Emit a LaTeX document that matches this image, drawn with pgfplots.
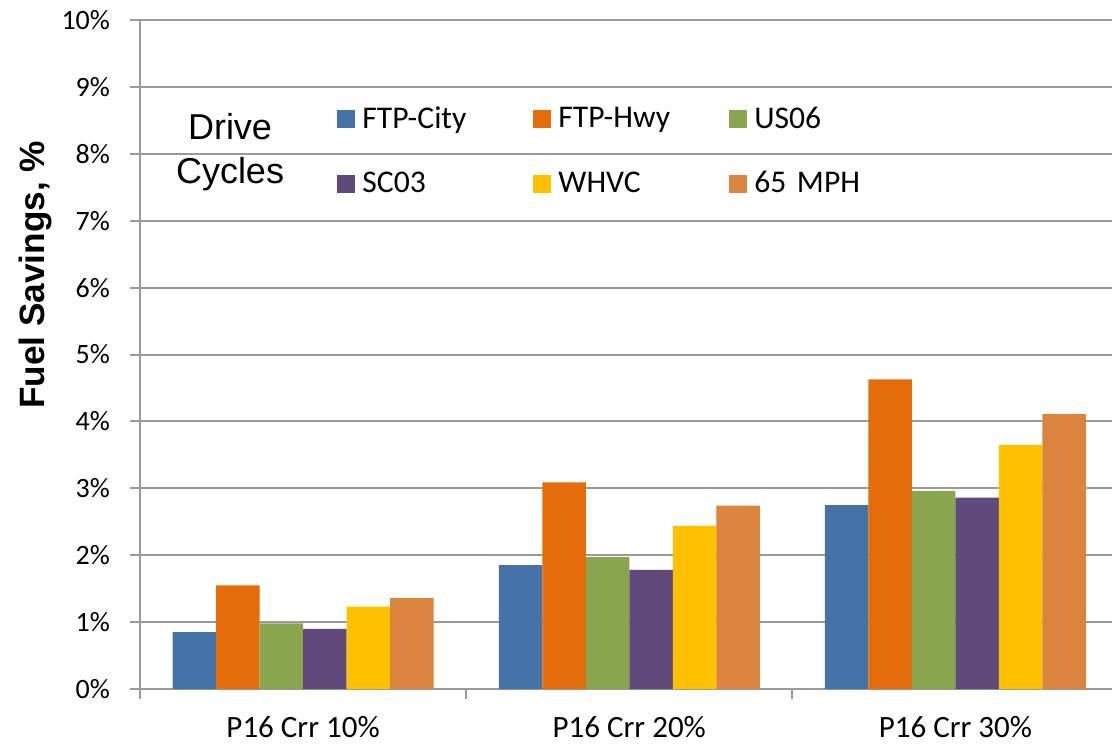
\documentclass[border=0pt]{standalone}
\usepackage{pgfplots}
\pgfplotsset{compat=1.18}
\usepackage{fontspec}
\setmainfont{Carlito}
\newfontfamily\arialfont{Liberation Sans}

\definecolor{cblue}{HTML}{4572A7}
\definecolor{corange}{HTML}{E46C0A}
\definecolor{cgreen}{HTML}{89A54E}
\definecolor{cpurple}{HTML}{604A7B}
\definecolor{cyellow}{HTML}{FFC000}
\definecolor{clight}{HTML}{DB843D}
\definecolor{gridgray}{HTML}{9A9A9A}

\begin{document}
\begin{tikzpicture}
  \begin{axis}[
    name=ax,
    scale only axis,
    width=486pt, height=334.5pt,
    ybar=0pt, bar width=21.75pt,
    xmin=-0.5, xmax=2.48,
    ymin=0, ymax=10,
    axis x line*=bottom, axis y line*=left,
    axis line style={gridgray, line width=1pt},
    ymajorgrids,
    grid style={gridgray, line width=1pt},
    tick align=outside,
    major tick length=5pt,
    tick style={gridgray, line width=1pt},
    xtick={-0.5,0.5,1.5},
    xticklabels={},
    extra x ticks={0,1,2},
    extra x tick labels={P16 Crr 10\%, P16 Crr 20\%, P16 Crr 30\%},
    extra x tick style={major tick length=0pt,
      xticklabel style={yshift=-10pt, font=\fontsize{15.5}{18}\selectfont}},
    ytick={0,1,...,10},
    yticklabel={\pgfmathprintnumber{\tick}\%},
    /pgf/number format/assume math mode=true,
    yticklabel style={xshift=-6.5pt, font=\fontsize{14}{16}\selectfont},
    ylabel={\arialfont\bfseries Fuel Savings, \%},
    ylabel style={at={(axis description cs:-0.108,0.619)}, anchor=center,
      rotate=0, font=\fontsize{17.6}{20}\selectfont},
    legend columns=3,
    legend image code/.code={\fill[#1] (0pt,-4.5pt) rectangle (9pt,4.5pt);},
    legend style={draw=none, fill=none, at={(0.2027,0.877)}, anchor=north west,
      inner sep=0pt, font=\fontsize{15.8}{18}\selectfont,
      row sep=16pt,
      nodes={text width=82pt, inner xsep=3.5pt, align=left}},
  ]
    \addplot[fill=cblue, draw=none] coordinates {(0,0.85) (1,1.85) (2,2.75)};
    \addplot[fill=corange, draw=none] coordinates {(0,1.55) (1,3.09) (2,4.63)};
    \addplot[fill=cgreen, draw=none] coordinates {(0,0.98) (1,1.97) (2,2.96)};
    \addplot[fill=cpurple, draw=none] coordinates {(0,0.90) (1,1.78) (2,2.86)};
    \addplot[fill=cyellow, draw=none] coordinates {(0,1.23) (1,2.44) (2,3.65)};
    \addplot[fill=clight, draw=none] coordinates {(0,1.36) (1,2.74) (2,4.11)};
    \legend{FTP-City, FTP-Hwy, US06, SC03, WHVC, 65 MPH}
    \node[font=\arialfont\fontsize{18}{22}\selectfont, align=center]
      at (axis cs:-0.224,8.03) {Drive\\Cycles};
  \end{axis}
  \pgfresetboundingbox
  \path ([xshift=-70pt,yshift=-28pt]ax.south west) rectangle ([yshift=10pt]ax.north east);
\end{tikzpicture}
\end{document}
